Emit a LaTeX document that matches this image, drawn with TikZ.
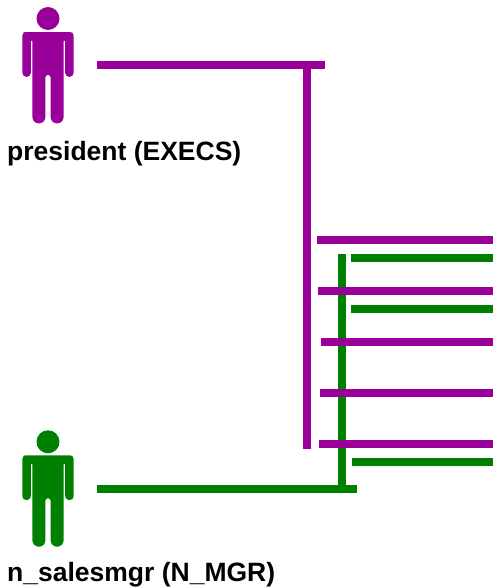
\documentclass[tikz,border=0pt]{standalone}
\usepackage{fontspec}
\setmainfont{Liberation Sans}
\definecolor{execs}{RGB}{153,0,153}
\definecolor{mgr}{RGB}{0,128,0}
\tikzset{
  purpleline/.style={draw=execs,line width=8pt,line cap=butt},
  greenline/.style={draw=mgr,line width=8pt,line cap=butt},
  actorlabel/.style={anchor=base west,inner sep=0pt,font=\bfseries\fontsize{26.5}{26.5}\selectfont},
  actor/.pic={
    \fill (48,18.5) circle (11.5);
    \fill (26,32) [rounded corners=3.5pt] -- (73.6,32) [rounded corners=3.9pt] -- (73.6,76.8) -- (65.2,76.8) [rounded corners=1.2pt] -- (65.2,40) -- (63.6,40) [rounded corners=6.4pt] -- (63.6,123.4) -- (50.6,123.4) [rounded corners=2.4pt] -- (50.6,75) -- (45.4,75) [rounded corners=6.4pt] -- (45.4,123.4) -- (32.4,123.4) [rounded corners=1.2pt] -- (32.4,40) -- (30.8,40) [rounded corners=3.9pt] -- (30.8,76.8) -- (22.4,76.8) [rounded corners=3.5pt] -- (22.4,32) -- cycle;
  }
}
\begin{document}
\begin{tikzpicture}[x=1pt,y=-1pt]
\useasboundingbox (0,0) rectangle (493,587);
\pic[execs] {actor};
\pic[mgr] at (0,423.3) {actor};
\node[actorlabel] (pres) at (7,160) {president (EXECS)};
\node[actorlabel] (sales) at (7,581.5) {n\_salesmgr (N\_MGR)};
% green lifeline
\coordinate (gTop) at (342,254);
\coordinate (gBot) at (342,489);
\coordinate (gL) at (97,489);
\coordinate (gR) at (357,489);
\draw[greenline] (gTop) -- (gBot);
\draw[greenline] (gL) -- (gR);
\foreach \nm/\xs/\ys in {a/351/258,b/351/309,c/352/462}{
  \coordinate (g\nm s) at (\xs,\ys);
  \coordinate (g\nm e) at (493,\ys);
  \draw[greenline] (g\nm s) -- (g\nm e);
}
% purple lifeline
\coordinate (pL) at (97,65);
\coordinate (pR) at (325,65);
\coordinate (pTop) at (307,61);
\coordinate (pBot) at (307,449);
\draw[purpleline] (pL) -- (pR);
\draw[purpleline] (pTop) -- (pBot);
\foreach \nm/\xs/\ys in {a/317/240,b/318/291,c/321/342,d/320/393,e/319/444}{
  \coordinate (p\nm s) at (\xs,\ys);
  \coordinate (p\nm e) at (493,\ys);
  \draw[purpleline] (p\nm s) -- (p\nm e);
}
\end{tikzpicture}
\end{document}
